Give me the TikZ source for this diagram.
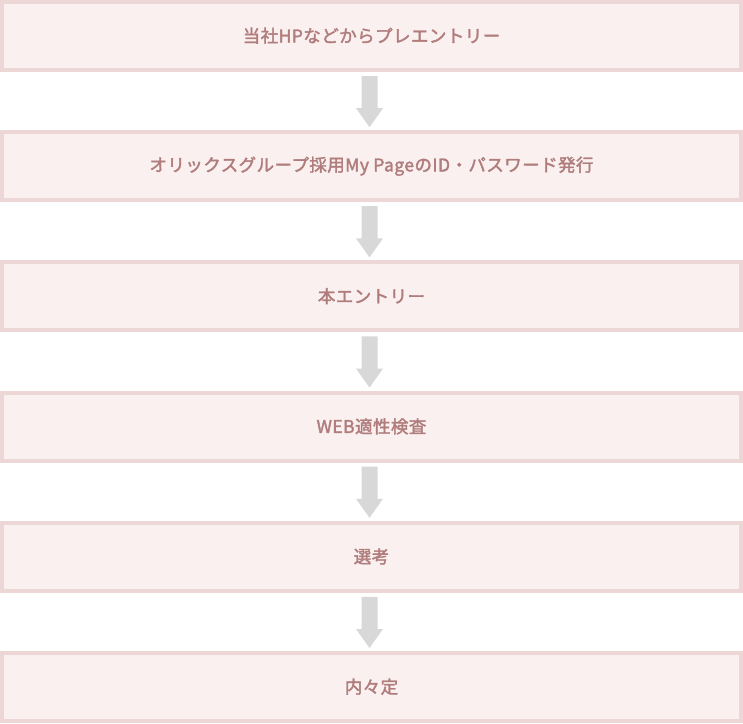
\documentclass[tikz,border=0pt]{standalone}
\usepackage{fontspec}
\newfontfamily\jp{Noto Sans CJK JP}[FakeBold=2,LetterSpace=2.5]
\usetikzlibrary{calc}
\definecolor{boxborder}{HTML}{ECD6D6}
\definecolor{boxfill}{HTML}{FAF0EF}
\definecolor{boxtext}{HTML}{B07C7C}
\definecolor{arrowc}{HTML}{D8D8D8}
\begin{document}
\begin{tikzpicture}[x=1pt,y=-1pt,
  stepbox/.style={draw=boxborder,fill=boxfill,line width=4pt,outer sep=0pt,minimum width=739pt,minimum height=68pt,inner sep=0pt,text=boxtext,font=\jp\fontsize{17.5pt}{19pt}\selectfont,anchor=north west},
  flowarrow/.style={fill=arrowc,draw=none}]
\useasboundingbox (0,0) rectangle (743,723);
\node[stepbox] (b1) at (2,2) {\raisebox{2pt}{当社HPなどからプレエントリー}};
\node[stepbox] (b2) at (2,132.2) {\raisebox{2pt}{オリックスグループ採用My PageのID・パスワード発行}};
\node[stepbox] (b3) at (2,262.4) {\raisebox{2pt}{本エントリー}};
\node[stepbox] (b4) at (2,392.6) {\raisebox{2pt}{WEB適性検査}};
\node[stepbox] (b5) at (2,522.8) {\raisebox{2pt}{選考}};
\node[stepbox] (b6) at (2,653) {\raisebox{2pt}{内々定}};
\foreach \a/\b in {b1/b2,b2/b3,b3/b4,b4/b5,b5/b6}{
  \coordinate (s) at ($(\a.south)+(-2,2)$);
  \coordinate (e) at ($(\b.north)+(-2,-2)$);
  \fill[flowarrow] ($(s)+(-8,4)$) -- ($(s)+(8,4)$) -- ($(e)+(8,-22)$) -- ($(e)+(13.5,-22)$) -- ($(e)+(0,-3)$) -- ($(e)+(-13.5,-22)$) -- ($(e)+(-8,-22)$) -- cycle;
}
\end{tikzpicture}
\end{document}
